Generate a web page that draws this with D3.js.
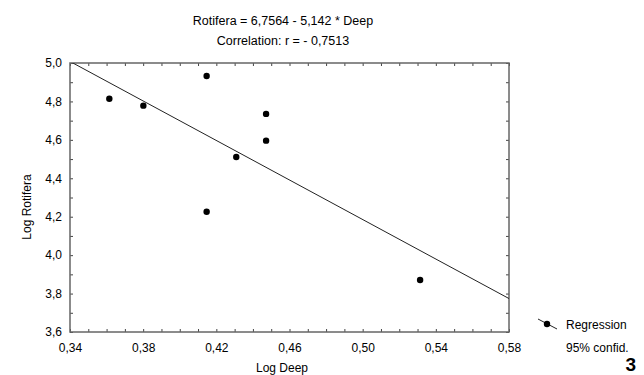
<!DOCTYPE html>
<html lang="en">
	<head>
		<meta charset="utf-8">
		<title>Log Rotifera vs Log Deep</title>
		<style type="text/css">
			body { margin: 0; background: #fff; }
			text { font-family: "Liberation Sans", Arial, sans-serif; fill: #000; }
		</style>
	</head>
	<body>
		<script src="https://cdn.jsdelivr.net/npm/d3@7"></script>
		<script type="text/javascript">
			//Width and height
			var w = 644;
			var h = 375;
			var plot = { left: 70, right: 509, top: 63, bottom: 332 };

			//Data
			var deep = [0.3615, 0.3801, 0.4147, 0.4147, 0.4309, 0.4472, 0.4472, 0.5314];
			var rotifera = [4.814, 4.778, 4.932, 4.226, 4.511, 4.735, 4.596, 3.871];
			var intercept = 6.7564;
			var slope = -5.142;
			var xTicks = [0.34, 0.38, 0.42, 0.46, 0.50, 0.54, 0.58];
			var yTicks = [3.6, 3.8, 4.0, 4.2, 4.4, 4.6, 4.8, 5.0];
			var titleLines = ["Rotifera = 6,7564 - 5,142 * Deep", "Correlation: r = - 0,7513"];

			var comma = function(d) { return d3.format(".2f")(d).replace(".", ","); };
			var commaY = function(d) { return d3.format(".1f")(d).replace(".", ","); };

			var xScale = d3.scaleLinear()
							.domain([0.34, 0.58])
							.range([plot.left, plot.right]);
			var yScale = d3.scaleLinear()
							.domain([3.6, 5.0])
							.range([plot.bottom, plot.top]);

			//minor ticks every 0.01 / 0.1
			var xMinor = d3.range(34, 59).map(function(d) { return d / 100; });
			var yMinor = d3.range(36, 51).map(function(d) { return d / 10; });

			var svg = d3.select("body")
						.append("svg")
						.attr("width", w)
						.attr("height", h);

			//Title
			svg.selectAll("text.title")
			   .data(titleLines)
			   .enter()
			   .append("text")
			   .attr("class", "title")
			   .attr("x", 283)
			   .attr("y", function(d, i) { return 24.5 + i * 20.7; })
			   .attr("text-anchor", "middle")
			   .attr("font-size", "12.5px")
			   .text(function(d) { return d; });

			//Axes (ticks pointing inward)
			var isMajorX = function(d) { return xTicks.some(function(t) { return Math.abs(t - d) < 1e-9; }); };
			var isMajorY = function(d) { return yTicks.some(function(t) { return Math.abs(t - d) < 1e-9; }); };

			var axisStyle = function(g) {
				g.select(".domain").remove();
				g.selectAll(".tick line").attr("stroke", "#444");
				g.selectAll("text").attr("font-size", "12px").attr("font-family", "Liberation Sans, Arial, sans-serif");
			};

			svg.append("g")
			   .attr("transform", "translate(0," + plot.bottom + ")")
			   .call(d3.axisBottom(xScale).tickValues(xMinor).tickSize(-3).tickPadding(11)
					.tickFormat(function(d) { return isMajorX(d) ? comma(d) : ""; }))
			   .call(axisStyle);

			svg.append("g")
			   .attr("transform", "translate(0," + plot.top + ")")
			   .call(d3.axisTop(xScale).tickValues(xMinor).tickSize(-3).tickFormat(""))
			   .call(axisStyle);

			svg.append("g")
			   .attr("transform", "translate(" + plot.left + ",0)")
			   .call(d3.axisLeft(yScale).tickValues(yMinor).tickSize(-3).tickPadding(8)
					.tickFormat(function(d) { return isMajorY(d) ? commaY(d) : ""; }))
			   .call(axisStyle);

			svg.append("g")
			   .attr("transform", "translate(" + plot.right + ",0)")
			   .call(d3.axisRight(yScale).tickValues(yMinor).tickSize(-3).tickFormat(""))
			   .call(axisStyle);

			//Frame
			svg.append("rect")
			   .attr("x", plot.left)
			   .attr("y", plot.top)
			   .attr("width", plot.right - plot.left)
			   .attr("height", plot.bottom - plot.top)
			   .attr("fill", "none")
			   .attr("stroke", "#666")
			   .attr("stroke-width", 1.5);

			//Regression line
			svg.append("clipPath")
			   .attr("id", "clip")
			   .append("rect")
			   .attr("x", plot.left)
			   .attr("y", plot.top)
			   .attr("width", plot.right - plot.left)
			   .attr("height", plot.bottom - plot.top);

			var lineX = xScale.domain();
			svg.append("path")
			   .datum(lineX)
			   .attr("clip-path", "url(#clip)")
			   .attr("fill", "none")
			   .attr("stroke", "#222")
			   .attr("stroke-width", 1)
			   .attr("d", d3.line()
					.x(function(d) { return xScale(d); })
					.y(function(d) { return yScale(intercept + slope * d); }));

			//Points
			svg.selectAll("circle.pt")
			   .data(deep)
			   .enter()
			   .append("circle")
			   .attr("class", "pt")
			   .attr("cx", function(d) { return xScale(d); })
			   .attr("cy", function(d, i) { return yScale(rotifera[i]); })
			   .attr("r", 3.2)
			   .attr("fill", "#000");

			//Axis titles
			svg.append("text")
			   .attr("x", 282)
			   .attr("y", 372)
			   .attr("text-anchor", "middle")
			   .attr("font-size", "12px")
			   .text("Log Deep");

			svg.append("text")
			   .attr("transform", "translate(31,207) rotate(-90)")
			   .attr("text-anchor", "middle")
			   .attr("font-size", "12px")
			   .text("Log Rotifera");

			//Legend
			svg.append("line")
			   .attr("x1", 538).attr("y1", 319)
			   .attr("x2", 557).attr("y2", 329)
			   .attr("stroke", "#222");
			svg.append("circle")
			   .attr("cx", 547).attr("cy", 324)
			   .attr("r", 3.2)
			   .attr("fill", "#000");
			svg.append("text")
			   .attr("x", 566).attr("y", 329)
			   .attr("font-size", "12px")
			   .text("Regression");
			svg.append("text")
			   .attr("x", 566).attr("y", 352)
			   .attr("font-size", "12px")
			   .text("95% confid.");

			svg.append("text")
			   .attr("x", 636).attr("y", 371)
			   .attr("text-anchor", "end")
			   .attr("font-size", "19px")
			   .attr("font-weight", "bold")
			   .text("3");
		</script>
	</body>
</html>
